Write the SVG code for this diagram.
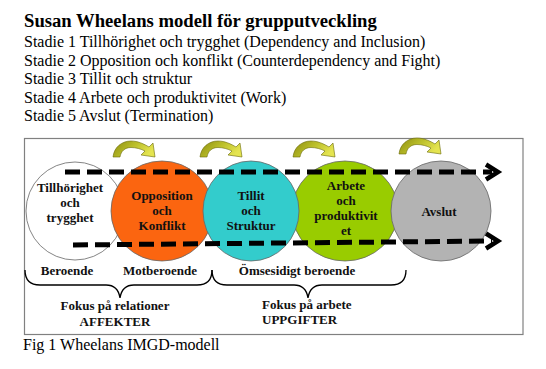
<svg xmlns="http://www.w3.org/2000/svg" width="546" height="369" viewBox="0 0 546 369">
<style>
.hdr{font-family:"Liberation Serif","Times New Roman",serif;fill:#000}
.t{font-family:"Liberation Serif","Times New Roman",serif;font-weight:bold;font-size:13px;fill:#111;text-anchor:middle}
.tl{font-family:"Liberation Serif","Times New Roman",serif;font-weight:bold;font-size:13px;fill:#111}
.c{stroke:#666;stroke-width:0.8}
.dash{fill:none;stroke:#000;stroke-width:5;stroke-dasharray:15 7}
.head{fill:none;stroke:#000;stroke-width:4.5;stroke-linejoin:miter;stroke-linecap:butt}
.brace{fill:none;stroke:#000;stroke-width:1.3}
.curl{fill:url(#olive);stroke:#6a6a08;stroke-width:0.6}
</style>
<defs>
<linearGradient id="olive" x1="0" y1="0" x2="1" y2="0.4">
<stop offset="0" stop-color="#8c8c10"/>
<stop offset="0.5" stop-color="#b8bc28"/>
<stop offset="1" stop-color="#e4e450"/>
</linearGradient>
<path id="curlShape" d="M0,16 C1,6 9,0 18,0 C25,0 31,3 36,6 L40,2 L42,16 L28,14 L32,10 C28,8 23,6.5 18,6.5 C12,6.5 8,10 7,16 Z"/>
</defs>
<rect width="546" height="369" fill="#fff"/>
<g id="header">
<text class="hdr" x="24" y="27" font-size="18.67" font-weight="bold">Susan Wheelans modell för grupputveckling</text>
<text class="hdr" x="24" y="47" font-size="16">Stadie 1 Tillhörighet och trygghet (Dependency and Inclusion)</text>
<text class="hdr" x="24" y="65.5" font-size="16">Stadie 2 Opposition och konflikt (Counterdependency and Fight)</text>
<text class="hdr" x="24" y="84" font-size="16">Stadie 3 Tillit och struktur</text>
<text class="hdr" x="24" y="102.5" font-size="16">Stadie 4 Arbete och produktivitet (Work)</text>
<text class="hdr" x="24" y="121" font-size="16">Stadie 5 Avslut (Termination)</text>
</g>
<rect id="frame" x="24.5" y="138.5" width="498.5" height="196" fill="none" stroke="#808080" stroke-width="1.2"/>
<g id="stage1">
<circle class="c" cx="75" cy="211" r="49" fill="#fff"/>
<text class="t" x="70" y="192">Tillhörighet</text>
<text class="t" x="70" y="207">och</text>
<text class="t" x="70" y="222">trygghet</text>
</g>
<g id="stage2">
<ellipse class="c" cx="162" cy="211" rx="51" ry="50" fill="#fb6510"/>
<text class="t" x="162" y="200">Opposition</text>
<text class="t" x="162" y="215">och</text>
<text class="t" x="162" y="230">Konflikt</text>
</g>
<g id="stage4">
<ellipse class="c" cx="345" cy="211" rx="53" ry="50" fill="#99cc00"/>
<text class="t" x="346" y="190">Arbete</text>
<text class="t" x="346" y="205">och</text>
<text class="t" x="346" y="220">produktivit</text>
<text class="t" x="346" y="235">et</text>
</g>
<g id="stage3">
<ellipse class="c" cx="251" cy="211" rx="48" ry="50" fill="#33cccc"/>
<text class="t" x="251" y="200">Tillit</text>
<text class="t" x="251" y="215">och</text>
<text class="t" x="251" y="230">Struktur</text>
</g>
<g id="stage5">
<circle class="c" cx="441" cy="211" r="50" fill="#b3b3b3"/>
<text class="t" x="439" y="216">Avslut</text>
</g>
<g id="connectors">
<path class="dash" d="M65,172 L492,172"/>
<polyline class="head" points="486,164.5 498,172 486,179.5"/>
<path class="dash" d="M73,245 L492,241"/>
<polyline class="head" points="486,233.5 498,241 486,248.5"/>
<use href="#curlShape" class="curl" transform="translate(113,141)"/>
<use href="#curlShape" class="curl" transform="translate(200,141)"/>
<use href="#curlShape" class="curl" transform="translate(293,141)"/>
<use href="#curlShape" class="curl" transform="translate(399,138)"/>
</g>
<g id="phases">
<text class="t" x="67" y="275">Beroende</text>
<text class="t" x="160" y="275">Motberoende</text>
<text class="t" x="297" y="275">Ömsesidigt beroende</text>
<path class="brace" d="M25,270 Q25,285 40,285 L106,285 Q118,285 120,298 Q122,285 134,285 L197,285 Q212,285 212,270"/>
<path class="brace" d="M212,270 Q212,285 227,285 L294,285 Q306,285 308,298 Q310,285 322,285 L391,285 Q406,285 406,270"/>
<text class="t" x="115" y="310">Fokus på relationer</text>
<text class="t" x="115" y="326">AFFEKTER</text>
<text class="tl" x="262" y="309">Fokus på arbete</text>
<text class="tl" x="262" y="324">UPPGIFTER</text>
</g>
<text class="hdr" x="23" y="350" font-size="16" fill="#0a0a3a">Fig 1 Wheelans IMGD-modell</text>
</svg>
